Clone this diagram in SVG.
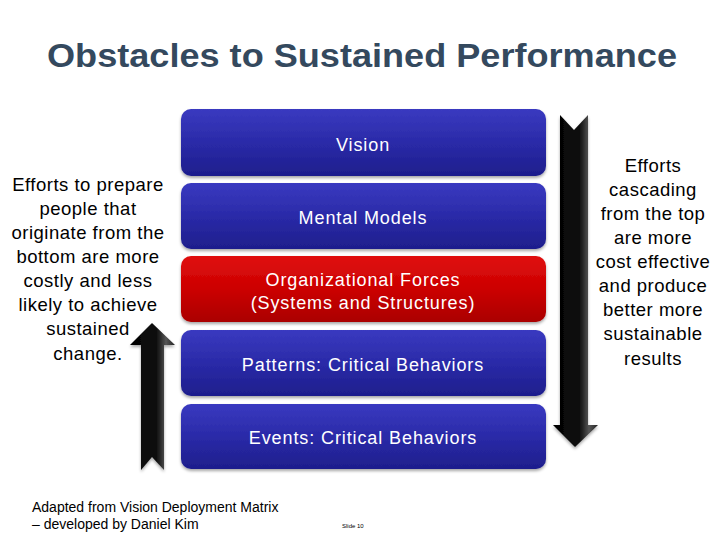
<svg xmlns="http://www.w3.org/2000/svg" width="728" height="546" viewBox="0 0 728 546">
<defs>
<linearGradient id="gb" x1="0" y1="0" x2="0" y2="1">
<stop offset="0" stop-color="#3a3ac0"/><stop offset="0.5" stop-color="#2a2aa8"/><stop offset="1" stop-color="#1e1e8c"/>
</linearGradient>
<linearGradient id="gr" x1="0" y1="0" x2="0" y2="1">
<stop offset="0" stop-color="#e01010"/><stop offset="0.5" stop-color="#cc0000"/><stop offset="1" stop-color="#aa0000"/>
</linearGradient>
<linearGradient id="ga" x1="0" y1="0" x2="1" y2="0">
<stop offset="0" stop-color="#000"/><stop offset="0.6" stop-color="#111"/><stop offset="0.8" stop-color="#555"/><stop offset="1" stop-color="#222"/>
</linearGradient>
<filter id="sh" x="-5%" y="-10%" width="110%" height="130%">
<feDropShadow dx="0" dy="2" stdDeviation="1.5" flood-color="#000" flood-opacity="0.35"/>
</filter>
</defs>
<style>
.box{stroke:none;filter:url(#sh)}
.bt{font-family:"Liberation Sans",Arial,sans-serif;font-size:18px;letter-spacing:0.9px;fill:#fff;text-anchor:middle}
.side{font-family:"Liberation Sans",Arial,sans-serif;font-size:18.5px;letter-spacing:0.5px;fill:#000;text-anchor:middle}
.foot{font-family:"Liberation Sans",Arial,sans-serif;font-size:14px;fill:#000}
</style>
<rect width="728" height="546" fill="#fff"/>
<text x="362" y="67" font-family="Liberation Sans,Arial,sans-serif" font-weight="bold" font-size="33" fill="#34495e" text-anchor="middle" textLength="630" lengthAdjust="spacingAndGlyphs">Obstacles to Sustained Performance</text>

<g id="vision"><rect class="box" x="181" y="109" width="365" height="67" rx="10" fill="url(#gb)"/><text class="bt" x="363" y="151">Vision</text></g>
<g id="mental-models"><rect class="box" x="181" y="183" width="365" height="66" rx="10" fill="url(#gb)"/><text class="bt" x="363" y="224">Mental Models</text></g>
<g id="org-forces"><rect class="box" x="181" y="256" width="365" height="66" rx="10" fill="url(#gr)"/><text class="bt" x="363" y="286">Organizational Forces</text><text class="bt" x="363" y="309">(Systems and Structures)</text></g>
<g id="patterns"><rect class="box" x="181" y="330" width="365" height="66" rx="10" fill="url(#gb)"/><text class="bt" x="363" y="371">Patterns: Critical Behaviors</text></g>
<g id="events"><rect class="box" x="181" y="404" width="365" height="65" rx="10" fill="url(#gb)"/><text class="bt" x="363" y="444">Events: Critical Behaviors</text></g>

<g id="connectors">
<path d="M152,323 L175,345 L164,345 L164,470 L152,457 L141,470 L141,345 L130,345 Z" fill="url(#ga)" filter="url(#sh)"/>
<path d="M575,447 L598,425 L588,425 L588,115 L574,130 L560,115 L560,425 L553,425 Z" fill="url(#ga)" filter="url(#sh)"/>
</g>

<g id="left-text">
<text class="side" x="88" y="191">Efforts to prepare</text>
<text class="side" x="88" y="215">people that</text>
<text class="side" x="88" y="239">originate from the</text>
<text class="side" x="88" y="263">bottom are more</text>
<text class="side" x="88" y="287">costly and less</text>
<text class="side" x="88" y="311">likely to achieve</text>
<text class="side" x="88" y="335">sustained</text>
<text class="side" x="88" y="360">change.</text>
</g>
<g id="right-text">
<text class="side" x="653" y="172">Efforts</text>
<text class="side" x="653" y="196">cascading</text>
<text class="side" x="653" y="220">from the top</text>
<text class="side" x="653" y="244">are more</text>
<text class="side" x="653" y="268">cost effective</text>
<text class="side" x="653" y="292">and produce</text>
<text class="side" x="653" y="316">better more</text>
<text class="side" x="653" y="340">sustainable</text>
<text class="side" x="653" y="365">results</text>
</g>
<text class="foot" x="32" y="512">Adapted from Vision Deployment Matrix</text>
<text class="foot" x="32" y="529">– developed by Daniel Kim</text>
<text x="342" y="528" font-family="Liberation Sans,Arial,sans-serif" font-size="6" fill="#000">Slide 10</text>
</svg>
